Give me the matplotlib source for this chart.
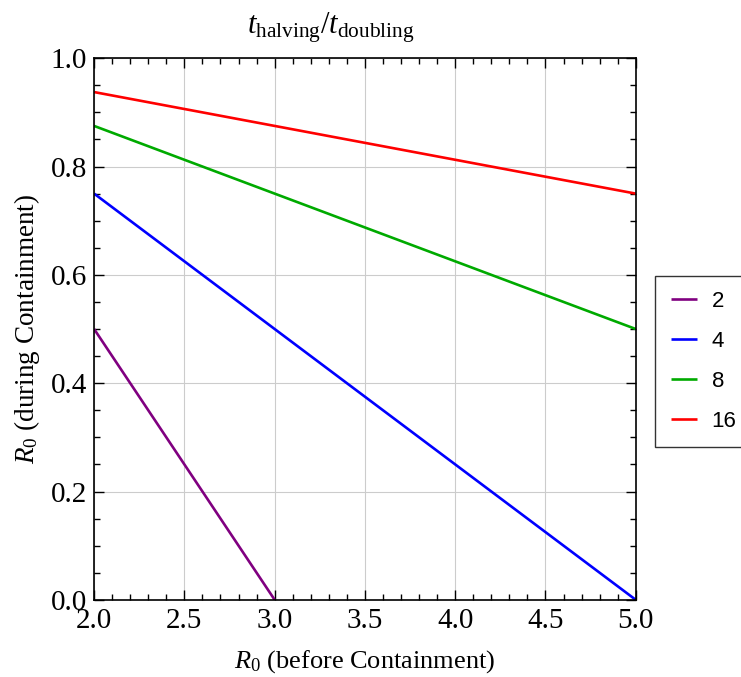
import matplotlib
matplotlib.use("Agg")
import matplotlib.pyplot as plt
from matplotlib.ticker import MultipleLocator

# Data
ratio_labels = ["2", "4", "8", "16"]
r0_before = {
    "2": [2.0, 2.5, 3.0],
    "4": [2.0, 3.0, 4.0, 5.0],
    "8": [2.0, 3.0, 4.0, 5.0],
    "16": [2.0, 3.0, 4.0, 5.0],
}
r0_during = {
    "2": [0.5, 0.25, 0.0],
    "4": [0.75, 0.5, 0.25, 0.0],
    "8": [0.875, 0.75, 0.625, 0.5],
    "16": [0.9375, 0.875, 0.8125, 0.75],
}
colors = {"2": "#800080", "4": "#0000ff", "8": "#00aa00", "16": "#ff0000"}

plt.rcParams["mathtext.fontset"] = "custom"
plt.rcParams["mathtext.rm"] = "Liberation Serif"
plt.rcParams["mathtext.it"] = "Liberation Serif:italic"
plt.rcParams["font.family"] = "Liberation Serif"

fig = plt.figure(figsize=(7.41, 6.77), dpi=100)
ax = fig.add_axes([0.127, 0.114, 0.731, 0.800])

for lab in ratio_labels:
    ax.plot(r0_before[lab], r0_during[lab], color=colors[lab], lw=1.9,
            label=lab, solid_capstyle="butt")

ax.set_xlim(2.0, 5.0)
ax.set_ylim(0.0, 1.0)
ax.xaxis.set_major_locator(MultipleLocator(0.5))
ax.xaxis.set_minor_locator(MultipleLocator(0.1))
ax.yaxis.set_major_locator(MultipleLocator(0.2))
ax.yaxis.set_minor_locator(MultipleLocator(0.05))
ax.tick_params(which="both", direction="in", top=True, right=True, width=1.0)
ax.tick_params(which="major", length=7, labelsize=21)
ax.tick_params(which="minor", length=4)
ax.tick_params(axis="x", labeltop=False, pad=6)
ax.tick_params(axis="y", labelright=False, pad=5)
ax.grid(True, which="major", color="#cccccc", lw=0.8)
for sp in ax.spines.values():
    sp.set_linewidth(1.2)

ax.set_xlabel("$R_0$ (before Containment)", fontsize=19, labelpad=10)
ax.set_ylabel("$R_0$ (during Containment)", fontsize=19.5, labelpad=6)
fig.text(0.447, 0.951, r"$t_{\mathrm{halving}}/t_{\mathrm{doubling}}$",
         fontsize=22, ha="center", va="baseline")

leg = fig.legend(loc="upper left", bbox_to_anchor=(0.884, 0.593),
                 prop={"family": "Liberation Sans", "size": 16},
                 frameon=True, fancybox=False, edgecolor="black",
                 handlelength=1.2, borderpad=0.7, labelspacing=0.85,
                 handletextpad=0.65, borderaxespad=0.0)
leg.get_frame().set_linewidth(1.0)

fig.savefig("out.png", dpi=100)
